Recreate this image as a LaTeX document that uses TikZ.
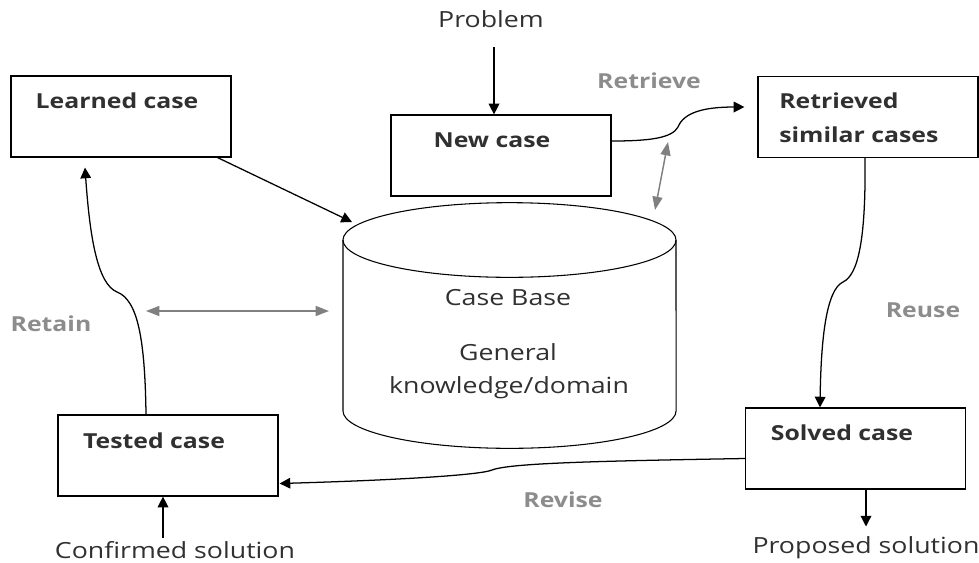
\documentclass[tikz,border=0pt]{standalone}
\usepackage{fontspec}
\setmainfont{Open Sans}[FakeStretch=1.2]
\usetikzlibrary{arrows.meta,calc}
\definecolor{lblgray}{HTML}{8C8C8C}
\definecolor{arrgray}{HTML}{808080}
\definecolor{txt}{HTML}{303030}
\begin{document}
\begin{tikzpicture}[x=0.75pt,y=-0.75pt,
  box/.style={draw, line width=0.9pt, minimum width=165pt, minimum height=60.75pt, inner sep=0pt},
  btxt/.style={inner sep=0pt, anchor=base, text=txt, font=\fontsize{15.5}{18}\selectfont\bfseries},
  rtxt/.style={inner sep=0pt, anchor=base, text=txt, font=\fontsize{16.7}{19}\selectfont},
  gtxt/.style={inner sep=0pt, anchor=base, text=lblgray, font=\fontsize{15.5}{18}\selectfont\bfseries},
  arr/.style={line width=0.95pt, -{Triangle[width=8pt,length=8pt]}},
  garr/.style={draw=arrgray, line width=1.1pt, {Triangle[width=7.5pt,length=10pt]}-{Triangle[width=7.5pt,length=10pt]}}]
\useasboundingbox (0,0) rectangle (979,562);

% boxes
\node[box] (lc) at (121,116.5) {};
\node[box] (nc) at (501,155.5) {};
\node[box] (rc) at (868,117) {};
\node[box] (tc) at (168,455.5) {};
\node[box] (sc) at (855.5,448.5) {};

% box texts
\node[btxt] (lct) at (117,108) {Learned case};
\node[btxt] (nct) at (492,147) {New case};
\node[btxt, anchor=base west] (rct1) at (779,108) {Retrieved};
\node[btxt, anchor=base west] (rct2) at (779,142) {similar cases};
\node[btxt] (tct) at (154,448) {Tested case};
\node[btxt] (sct) at (842,440) {Solved case};

% cylinder
\draw[line width=0.8pt] (509.5,240) ellipse [x radius=124.9pt, y radius=28pt];
\draw[line width=0.8pt] (343,240) -- (343,411) arc[start angle=180, end angle=360, x radius=124.9pt, y radius=28pt] -- (676,240);
\node[rtxt] (cb1) at (508,305) {Case Base};
\node[rtxt] (cb2) at (508,360) {General};
\node[rtxt] (cb3) at (509,393) {knowledge/domain};

% plain labels
\node[rtxt] (prob) at (491,27) {Problem};
\node[rtxt] (cs) at (175,558) {Confirmed solution};
\node[rtxt] (ps) at (866,553) {Proposed solution};

% gray step labels
\node[gtxt] (lretr) at (649,88) {Retrieve};
\node[gtxt] (lreuse) at (923,317) {Reuse};
\node[gtxt] (lretain) at (51,331) {Retain};
\node[gtxt] (lrev) at (563,507) {Revise};

% free ends
\coordinate (cbin) at (352,222);
\coordinate (g1a) at (668,142);
\coordinate (g1b) at (655,210);
\coordinate (g2a) at (146,311);
\coordinate (g2b) at (329,311);

% connectors
\draw[arr] ($(prob.south)+(3,20)$) -- ($(nc.north)+(-7,0)$);
\draw[arr] ($(lc.south east)+(-14,0)$) -- (cbin);
\draw[arr] ($(nc.east)+(0,-14.5)$) .. controls (650,141) and (672,138) .. (678,127)
   .. controls (684,112) and (705,107) .. ($(rc.west)+(-13,-10)$);
\draw[garr] (g1a) -- (g1b);
\draw[arr] ($(rc.south)+(-3,0)$) .. controls (866,240) and (858,275) .. (843,282)
   .. controls (826,290) and (821,340) .. ($(sc.north)+(-35.5,0)$);
\draw[arr] ($(sc.west)+(0,10)$) .. controls (600,461) and (510,463) .. (492,470)
   .. controls (480,475) and (400,480) .. ($(tc.east)+(1,28)$);
\draw[arr] (sc.south -| ps.north) -- ([yshift=7pt]ps.north);
\draw[arr] ($(cs.north)+(-12,-3)$) -- ($(tc.south)+(-5,0)$);
\draw[arr] ($(tc.north)+(-22,0)$) .. controls (145,340) and (138,300) .. (117,292)
   .. controls (98,284) and (90,240) .. ($(lc.south)+(-36,10)$);
\draw[garr] (g2a) -- (g2b);
\end{tikzpicture}
\end{document}
